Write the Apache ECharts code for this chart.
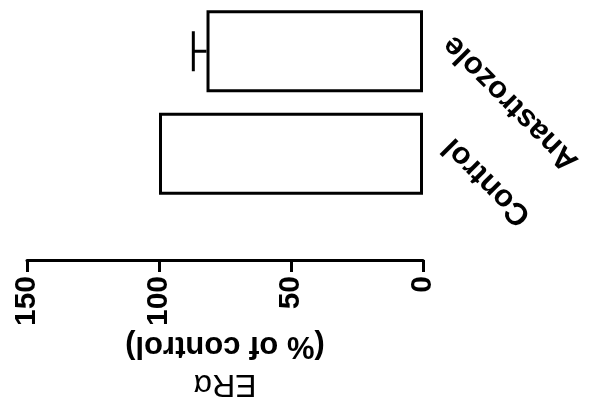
<!DOCTYPE html>
<html>
<head>
<meta charset="utf-8">
<script src="https://cdn.jsdelivr.net/npm/echarts@6/dist/echarts.min.js"></script>
<style>
  html, body { margin: 0; padding: 0; background: #fff; }
  #chart { width: 600px; height: 411px; }
</style>
</head>
<body>
<div id="chart"></div>
<script>
// data
var groups = ['Control', 'Anastrozole'];
var era_values = [100, 82];
var era_errors = [0, 5];
var value_ticks = [0, 50, 100, 150];

var chart = echarts.init(document.getElementById('chart'));

var err_data = [];
for (var i = 0; i < groups.length; i++) {
    err_data.push([era_values[i], i, era_errors[i]]);
}

chart.setOption({
    animation: false,
    textStyle: {fontFamily: 'Liberation Sans', color: '#000'},
    grid: {
        left: 27,
        right: 177,
        top: -6,
        bottom: 206   // bars sit well above the value axis line
    },
    xAxis: {
        type: 'value',
        inverse: true,
        position: 'bottom',
        offset: 55,
        min: value_ticks[0],
        max: value_ticks[value_ticks.length - 1],
        interval: 50,
        splitLine: {show: false},
        axisLine: {show: true, lineStyle: {color: '#000', width: 3}},
        axisTick: {show: true, length: 12, lineStyle: {color: '#000', width: 3}},
        axisLabel: {
            rotate: 90,
            margin: 16,
            color: '#000',
            fontSize: 30,
            fontWeight: 'bold',
            fontFamily: 'Liberation Sans'
        },
        // whole figure is turned on its side, so the name reads upside down
        name: '{a|ERα}\n{b|(% of control)}',
        nameLocation: 'middle',
        nameRotate: 180,
        nameGap: 66,
        nameTextStyle: {
            color: '#000',
            rich: {
                a: {fontSize: 32, fontFamily: 'Liberation Sans', lineHeight: 42, color: '#000'},
                b: {fontSize: 31, fontWeight: 'bold', fontFamily: 'Liberation Sans', lineHeight: 34, color: '#000'}
            }
        }
    },
    yAxis: {
        type: 'category',
        position: 'right',
        data: groups,
        axisLine: {show: false},
        axisTick: {show: false},
        splitLine: {show: false},
        axisLabel: {
            rotate: 135,
            margin: 14,
            align: 'right',
            verticalAlign: 'top',
            color: '#000',
            fontSize: 31,
            fontWeight: 'bold',
            fontFamily: 'Liberation Sans'
        }
    },
    series: [{
        name: 'ERα',
        type: 'bar',
        data: era_values,
        barWidth: 82,
        itemStyle: {color: '#fff', borderColor: '#000', borderWidth: 3}
    }, {
        name: 'error',
        type: 'custom',
        data: err_data,
        encode: {x: 0, y: 1},
        z: 3,
        renderItem: function (params, api) {
            var v = api.value(0);
            var e = api.value(2);
            if (!e) return;
            var cat = api.value(1);
            var p0 = api.coord([v, cat]);
            var p1 = api.coord([v + e, cat]);
            var half = 20;
            var st = {stroke: '#000', lineWidth: 3, fill: null};
            return {
                type: 'group',
                children: [{
                    type: 'line',
                    shape: {x1: p0[0], y1: p0[1], x2: p1[0], y2: p1[1]},
                    style: st
                }, {
                    type: 'line',
                    shape: {x1: p1[0], y1: p1[1] - half, x2: p1[0], y2: p1[1] + half},
                    style: st
                }]
            };
        }
    }]
});
</script>
</body>
</html>
